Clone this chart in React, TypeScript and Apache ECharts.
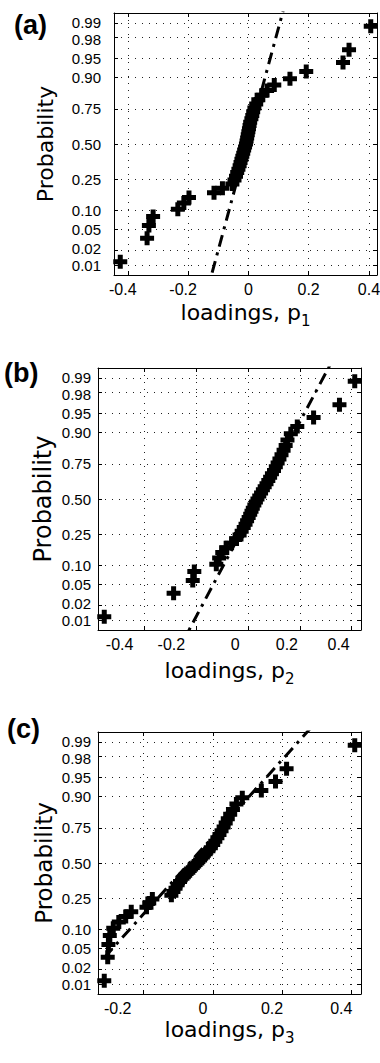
import React, { useEffect, useRef } from "react";
import * as echarts from "echarts";

// ---------------- data ----------------
const probTicks = [0.01, 0.02, 0.05, 0.1, 0.25, 0.5, 0.75, 0.9, 0.95, 0.98, 0.99];
const probTickLabels = ["0.01", "0.02", "0.05", "0.10", "0.25", "0.50", "0.75", "0.90", "0.95", "0.98", "0.99"];
// labels that sit very close to a neighbour (drawn by a second label axis)
const crowdedProbTicks = [0.02, 0.98];
const xTicks = [-0.4, -0.2, 0, 0.2, 0.4];
const xTickLabels = ["-0.4", "-0.2", "0", "0.2", "0.4"];

// sorted loadings (normal probability plot, n = 43 each)
const loadingsP1 = [
  -0.425, -0.336, -0.33, -0.316, -0.234, -0.214, -0.197, -0.114, -0.086, -0.053,
  -0.046, -0.041, -0.037, -0.033, -0.029, -0.026, -0.023, -0.02, -0.017, -0.014,
  -0.011, -0.008, -0.006, -0.004, -0.002, 0.0, 0.002, 0.004, 0.006, 0.01,
  0.013, 0.016, 0.02, 0.026, 0.033, 0.044, 0.062, 0.086, 0.138, 0.192,
  0.314, 0.334, 0.406,
];
const loadingsP2 = [
  -0.556, -0.288, -0.214, -0.208, -0.123, -0.112, -0.1, -0.085, -0.064, -0.045,
  -0.033, -0.025, -0.017, -0.01, -0.004, 0.002, 0.008, 0.013, 0.018, 0.024,
  0.03, 0.036, 0.043, 0.05, 0.057, 0.064, 0.071, 0.078, 0.085, 0.092,
  0.1, 0.107, 0.114, 0.121, 0.129, 0.137, 0.145, 0.152, 0.165, 0.19,
  0.253, 0.353, 0.412,
];
const loadingsP3 = [
  -0.314, -0.304, -0.302, -0.298, -0.288, -0.272, -0.252, -0.236, -0.192, -0.184,
  -0.175, -0.12, -0.114, -0.108, -0.102, -0.095, -0.088, -0.08, -0.071, -0.063,
  -0.054, -0.045, -0.037, -0.029, -0.021, -0.013, -0.006, 0.001, 0.007, 0.013,
  0.019, 0.025, 0.031, 0.037, 0.043, 0.05, 0.058, 0.068, 0.085, 0.14,
  0.181, 0.213, 0.41,
];
// x of the reference line at the 25th and 75th percentile
const quartilesP1 = [-0.036, 0.027];
const quartilesP2 = [-0.031, 0.113];
const quartilesP3 = [-0.159, 0.023];

const panelLetters = ["(a)", "(b)", "(c)"];
const loadingIndex = ["1", "2", "3"];

// ---------------- helpers ----------------
function norminv(p: number): number {
  const a = [-39.69683028665376, 220.9460984245205, -275.9285104469687, 138.357751867269, -30.66479806614716, 2.506628277459239];
  const b = [-54.47609879822406, 161.5858368580409, -155.6989798598866, 66.80131188771972, -13.28068155288572];
  const c = [-0.007784894002430293, -0.3223964580411365, -2.400758277161838, -2.549732539343734, 4.374664141464968, 2.938163982698783];
  const d = [0.007784695709041462, 0.3224671290700398, 2.445134137142996, 3.754408661907416];
  const pl = 0.02425;
  if (p < pl) {
    const q = Math.sqrt(-2 * Math.log(p));
    return (((((c[0] * q + c[1]) * q + c[2]) * q + c[3]) * q + c[4]) * q + c[5]) / ((((d[0] * q + d[1]) * q + d[2]) * q + d[3]) * q + 1);
  }
  if (p > 1 - pl) {
    const q = Math.sqrt(-2 * Math.log(1 - p));
    return -(((((c[0] * q + c[1]) * q + c[2]) * q + c[3]) * q + c[4]) * q + c[5]) / ((((d[0] * q + d[1]) * q + d[2]) * q + d[3]) * q + 1);
  }
  const q = p - 0.5;
  const r = q * q;
  return ((((((a[0] * r + a[1]) * r + a[2]) * r + a[3]) * r + a[4]) * r + a[5]) * q) / (((((b[0] * r + b[1]) * r + b[2]) * r + b[3]) * r + b[4]) * r + 1);
}

const FONT = "DejaVu Sans";
const TICK_FONT = "Liberation Sans";
const PLUS = "path://M4.5,0H9.5V4.5H14V9.5H9.5V14H4.5V9.5H0V4.5H4.5Z";

const layouts = [
  { grid: { left: 114, top: 13, width: 263, height: 262 }, yNameGap: 58, yNameSize: 22, xNameGap: 26, yLabelMargin: 13, padPos: 0, padNeg: 10, letter: { left: 14, top: 11 } },
  { grid: { left: 98, top: 368, width: 263, height: 262 }, yNameGap: 43, yNameSize: 24, xNameGap: 29, yLabelMargin: 7, padPos: 26, padNeg: 50, letter: { left: 4, top: 359 } },
  { grid: { left: 98, top: 732, width: 263, height: 262 }, yNameGap: 43, yNameSize: 23, xNameGap: 24, yLabelMargin: 7, padPos: 20, padNeg: 52, letter: { left: 7, top: 715 } },
];

const datasets = [loadingsP1, loadingsP2, loadingsP3];
const quartiles = [quartilesP1, quartilesP2, quartilesP3];

function buildOption() {
  const grids: any[] = [];
  const xAxes: any[] = [];
  const yAxes: any[] = [];
  const series: any[] = [];
  const graphics: any[] = [];
  const zTicks = probTicks.map((p) => norminv(p));
  const zCrowded = crowdedProbTicks.map((p) => norminv(p));
  const zMain = zTicks.filter((z) => !zCrowded.some((c) => Math.abs(c - z) < 1e-9));
  const TS = 16;
  const YS = 15;
  // nudge the tightly packed labels a little apart (up = u*, down = d*)
  const probFormatter = (v: number) => {
    const k = zTicks.findIndex((t) => Math.abs(t - v) < 1e-6);
    if (k < 0) return "";
    const lab = probTickLabels[k];
    const p = probTicks[k];
    if (p === 0.99) return `{u1|${lab}}`;
    if (p === 0.02) return `{u2|${lab}}`;
    if (p === 0.98) return `{d2|${lab}}`;
    if (p === 0.01) return `{d1|${lab}}`;
    return `{r|${lab}}`;
  };
  const base = { fontFamily: TICK_FONT, fontSize: YS, color: "#000", lineHeight: 12 };
  const yRich = {
    r: { ...base },
    u1: { ...base, padding: [0, 0, 2, 0] },
    u2: { ...base, padding: [0, 0, 4, 0] },
    d1: { ...base, padding: [2, 0, 0, 0] },
    d2: { ...base, padding: [4, 0, 0, 0] },
  };

  datasets.forEach((vals, i) => {
    const L = layouts[i];
    const n = vals.length;
    const dmin = Math.min(...vals);
    const dmax = Math.max(...vals);
    const R = dmax - dmin;
    const xmin = dmin - 0.025 * R;
    const xmax = dmax + 0.025 * R;
    const zmin = norminv(0.25 / n);
    const zmax = norminv((n - 0.25) / n);
    const xt = xTicks.filter((v) => v >= xmin && v <= xmax);

    grids.push({ ...L.grid, containLabel: false, outerBoundsMode: "none", show: false });

    const dotted = { color: "#222", width: 1, type: [1, 6] };
    const frameLine = { show: true, onZero: false, lineStyle: { color: "#000", width: 1 } };
    const tick = (vals2: number[]) => ({ show: true, inside: true, length: 4, customValues: vals2, lineStyle: { color: "#000", width: 1 } });
    const yLabel = (values: number[]) => ({
      customValues: values,
      margin: L.yLabelMargin,
      hideOverlap: false,
      fontFamily: TICK_FONT,
      fontSize: YS,
      color: "#000",
      formatter: probFormatter,
      rich: yRich,
    });

    xAxes.push({
      gridIndex: i,
      type: "value",
      position: "bottom",
      min: xmin,
      max: xmax,
      axisLine: frameLine,
      axisTick: tick(xt),
      axisLabel: {
        customValues: xt,
        margin: 6,
        hideOverlap: false,
        fontFamily: TICK_FONT,
        fontSize: TS,
        color: "#000",
        formatter: (v: number) => {
          const k = xTicks.findIndex((t) => Math.abs(t - v) < 1e-9);
          const lab = k >= 0 ? xTickLabels[k] : String(v);
          return v < 0 ? `{n|${lab}}` : `{p|${lab}}`;
        },
        rich: {
          n: { fontFamily: TICK_FONT, fontSize: TS, color: "#000", padding: [0, L.padNeg, 0, 0] },
          p: { fontFamily: TICK_FONT, fontSize: TS, color: "#000", padding: [0, L.padPos, 0, 0] },
        },
      },
      splitLine: { show: true, lineStyle: dotted },
      name: `{m|loadings, p}{s|${loadingIndex[i]}}`,
      nameLocation: "middle",
      nameGap: L.xNameGap,
      nameMoveOverlap: false,
      nameTextStyle: {
        rich: {
          m: { fontFamily: FONT, fontSize: 22, color: "#000", lineHeight: 27, verticalAlign: "top" },
          s: { fontFamily: FONT, fontSize: 15, color: "#000", lineHeight: 18, padding: [16, 0, 0, 0], verticalAlign: "bottom" },
        },
      },
    });
    xAxes.push({
      gridIndex: i,
      type: "value",
      position: "top",
      min: xmin,
      max: xmax,
      axisLine: frameLine,
      axisTick: tick(xt),
      axisLabel: { show: false },
      splitLine: { show: false },
    });

    // main left axis (frame, ticks, grid lines, most labels, title)
    yAxes.push({
      gridIndex: i,
      type: "value",
      position: "left",
      min: zmin,
      max: zmax,
      axisLine: frameLine,
      axisTick: tick(zTicks),
      axisLabel: yLabel(zMain),
      splitLine: { show: true, lineStyle: dotted },
      name: "Probability",
      nameLocation: "middle",
      nameRotate: 90,
      nameGap: L.yNameGap,
      nameMoveOverlap: false,
      nameTextStyle: { fontFamily: FONT, fontSize: L.yNameSize, color: "#000" },
    });
    // right frame side
    yAxes.push({
      gridIndex: i,
      type: "value",
      position: "right",
      min: zmin,
      max: zmax,
      axisLine: frameLine,
      axisTick: tick(zTicks),
      axisLabel: { show: false },
      splitLine: { show: false },
    });
    // second label axis for the crowded labels 0.02 / 0.98
    yAxes.push({
      gridIndex: i,
      type: "value",
      position: "left",
      min: zmin,
      max: zmax,
      axisLine: { show: false },
      axisTick: { show: false },
      axisLabel: yLabel(zCrowded),
      splitLine: { show: false },
    });

    const pts = vals.map((v, k) => [v, norminv((k + 0.5) / n)]);
    series.push({
      type: "scatter",
      xAxisIndex: 2 * i,
      yAxisIndex: 3 * i,
      data: pts,
      symbol: PLUS,
      symbolSize: 14,
      itemStyle: { color: "#000", opacity: 1 },
      clip: true,
      z: 3,
    });

    const [q1, q3] = quartiles[i];
    const z1 = norminv(0.25);
    const z3 = norminv(0.75);
    const slope = (z3 - z1) / (q3 - q1);
    const zAt = (x: number) => z1 + (x - q1) * slope;
    series.push({
      type: "line",
      xAxisIndex: 2 * i,
      yAxisIndex: 3 * i,
      data: [
        [dmin, zAt(dmin)],
        [dmax, zAt(dmax)],
      ],
      symbol: "none",
      clip: true,
      lineStyle: { color: "#000", width: 3, type: [12, 6, 3, 6], cap: "butt" },
      z: 4,
    });

    graphics.push({
      type: "text",
      left: L.letter.left,
      top: L.letter.top,
      style: { text: panelLetters[i], fontFamily: TICK_FONT, fontSize: 27, fontWeight: "bold", fill: "#000" },
    });
  });

  return {
    animation: false,
    backgroundColor: "#fff",
    grid: grids,
    xAxis: xAxes,
    yAxis: yAxes,
    series,
    graphic: graphics,
  };
}

export default function App() {
  const ref = useRef<HTMLDivElement>(null);
  useEffect(() => {
    if (!ref.current) return;
    const chart = echarts.init(ref.current, undefined, { renderer: "svg" });
    chart.setOption(buildOption() as any);
    return () => chart.dispose();
  }, []);
  return <div ref={ref} style={{ position: "absolute", left: 0, top: 0, width: 380, height: 1063 }} />;
}
